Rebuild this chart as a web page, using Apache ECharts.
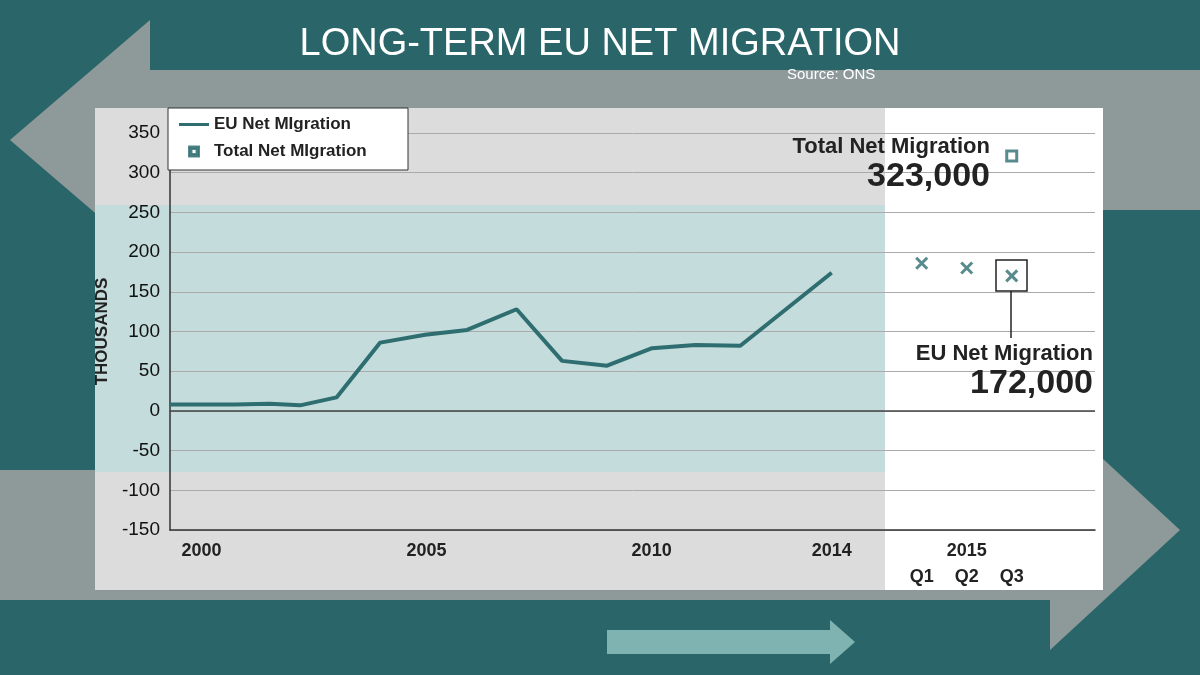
<!DOCTYPE html>
<html><head><meta charset="utf-8">
<script src="https://cdn.jsdelivr.net/npm/echarts@6/dist/echarts.min.js"></script>
<style>html,body{margin:0;padding:0}#c{width:1200px;height:675px}</style>
</head><body><div id="c"></div>
<script>
var euYears = [1999.3, 2000.74, 2001.52, 2002.19, 2003.0, 2003.97, 2004.97, 2005.9, 2007.0, 2008.01, 2009.01, 2010.01, 2010.97, 2011.97, 2014.0];
var euValues = [8, 8, 9, 7, 17, 86, 96, 102, 128, 63, 57, 79, 83, 82, 174];
var quarterPos = [2016, 2017, 2018];
var quarterEu = [186, 180, 170];
var totalPos = [2018];
var totalValues = [321];
var tickLabels = {2000: '2000', 2005: '2005', 2010: '2010', 2014: '2014', 2016: '\nQ1', 2017: '2015\nQ2', 2018: '\nQ3'};

var teal = '#2e6e70';
var chart = echarts.init(document.getElementById('c'));
var option = {
    backgroundColor: '#2a6669',
    textStyle: {fontFamily: 'Liberation Sans, Arial, sans-serif'},
    graphic: [
        {type: 'polygon', z: -20, shape: {points: [[150, 70], [150, 20], [10, 140], [150, 260], [150, 210], [1200, 210], [1200, 70]]}, style: {fill: '#8e9a9a'}},
        {type: 'polygon', z: -20, shape: {points: [[0, 470], [1050, 470], [1050, 410], [1180, 530], [1050, 650], [1050, 600], [0, 600]]}, style: {fill: '#8e9a9a'}},
        {type: 'rect', z: -15, shape: {x: 95, y: 108, width: 790, height: 482}, style: {fill: '#dcdcdc'}},
        {type: 'rect', z: -15, shape: {x: 885, y: 108, width: 218, height: 482}, style: {fill: '#ffffff'}},
        {type: 'rect', z: -14, shape: {x: 95, y: 205, width: 790, height: 267}, style: {fill: '#c4dcdb'}},
        {type: 'polygon', z: -14, shape: {points: [[607, 630], [830, 630], [830, 620], [855, 642], [830, 664], [830, 654], [607, 654]]}, style: {fill: '#7fb3b2'}},
        {type: 'text', left: 'center', top: 26, style: {text: 'LONG-TERM EU NET MIGRATION', fill: '#fff', font: '38px Liberation Sans, Arial'}},
        {type: 'text', left: 787, top: 67, style: {text: 'Source: ONS', fill: '#fff', font: '15px Liberation Sans, Arial'}},
        {type: 'rect', shape: {x: 168, y: 108, width: 240, height: 62}, style: {fill: '#fff', stroke: '#333', lineWidth: 1}, z: 5},
        {type: 'text', right: 210, top: 136, z: 10, style: {text: 'Total Net Migration', fill: '#222', font: 'bold 22px Liberation Sans, Arial', align: 'right'}},
        {type: 'text', right: 210, top: 160, z: 10, style: {text: '323,000', fill: '#222', font: 'bold 34px Liberation Sans, Arial', align: 'right'}},
        {type: 'rect', z: 10, shape: {x: 996, y: 260, width: 31, height: 31}, style: {fill: 'none', stroke: '#222', lineWidth: 1.5}},
        {type: 'line', z: 10, shape: {x1: 1011, y1: 291, x2: 1011, y2: 338}, style: {stroke: '#222', lineWidth: 1.5}},
        {type: 'text', right: 107, top: 343, z: 10, style: {text: 'EU Net Migration', fill: '#222', font: 'bold 22px Liberation Sans, Arial', align: 'right'}},
        {type: 'text', right: 107, top: 367, z: 10, style: {text: '172,000', fill: '#222', font: 'bold 34px Liberation Sans, Arial', align: 'right'}}
    ],
    legend: {
        left: 174, top: 111, orient: 'vertical', itemGap: 10, z: 6,
        symbolKeepAspect: true,
        textStyle: {fontSize: 17, fontWeight: 'bold', color: '#222'},
        data: [
            {name: 'EU Net MIgration', icon: 'path://M0,3.5H30V6.5H0Z', itemStyle: {color: teal}},
            {name: 'Total Net MIgration', icon: 'path://M0,0H10V10H0ZM2.5,2.5V7.5H7.5V2.5Z', itemStyle: {color: teal}}
        ],
        itemWidth: 30, itemHeight: 10
    },
    grid: {left: 170, right: 105, top: 133, bottom: 145},
    xAxis: {
        type: 'value', min: 1999.3, max: 2019.85,
        axisLine: {onZero: false, lineStyle: {color: '#333', width: 1.5}},
        axisTick: {show: false}, splitLine: {show: false},
        axisLabel: {
            customValues: [2000, 2005, 2010, 2014, 2016, 2017, 2018],
            formatter: function (v) { return tickLabels[Math.round(v)] || ''; },
            color: '#222', fontSize: 18, fontWeight: 'bold', lineHeight: 26, margin: 8
        }
    },
    yAxis: {
        type: 'value', min: -150, max: 350, interval: 50,
        name: 'THOUSANDS', nameLocation: 'middle', nameGap: 52,
        nameTextStyle: {color: '#222', fontSize: 17, fontWeight: 'bold'},
        axisLine: {show: true, lineStyle: {color: '#333', width: 1.5}},
        axisTick: {show: false},
        axisLabel: {color: '#111', fontSize: 19, margin: 10},
        splitLine: {lineStyle: {color: '#aaa', width: 1}}
    },
    series: [
        {name: 'EU Net MIgration', type: 'line', data: euYears.map(function (x, i) { return [x, euValues[i]]; }),
         symbol: 'none', lineStyle: {color: teal, width: 4}, z: 3,
         markLine: {silent: true, symbol: 'none', label: {show: false}, lineStyle: {color: '#444', width: 1.5, type: 'solid'}, data: [{yAxis: 0}]}},
        {name: 'EU quarters', type: 'scatter', data: quarterPos.map(function (x, i) { return [x, quarterEu[i]]; }),
         symbol: 'path://M0,0L10,10M10,0L0,10', symbolSize: 11,
         itemStyle: {color: 'none', borderColor: teal, borderWidth: 3}, z: 4},
        {name: 'Total Net MIgration', type: 'scatter', data: totalPos.map(function (x, i) { return [x, totalValues[i]]; }),
         symbol: 'rect', symbolSize: 10, itemStyle: {color: '#fff', borderColor: teal, borderWidth: 3}, z: 4}
    ]
};
chart.setOption(option);
</script></body></html>
